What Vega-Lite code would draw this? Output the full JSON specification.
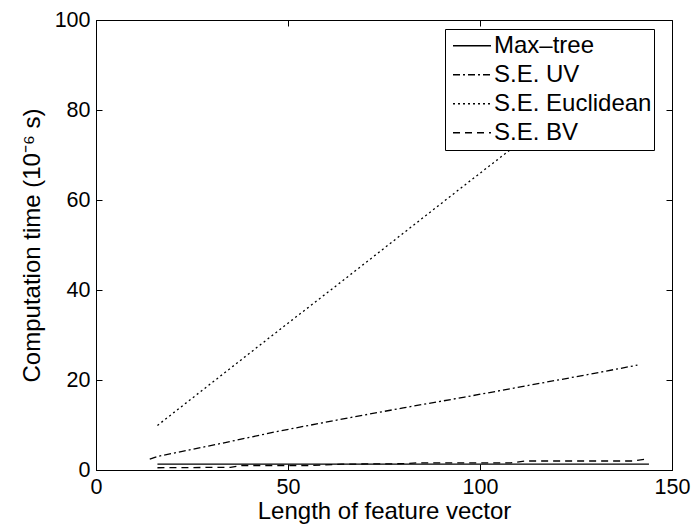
{
  "$schema": "https://vega.github.io/schema/vega-lite/v6.json",
  "width": 576,
  "height": 450,
  "autosize": {"type": "none"},
  "padding": {"left": 96, "top": 20, "right": 21, "bottom": 55},
  "background": "white",
  "config": {
    "font": "Liberation Sans",
    "view": {"stroke": "black", "strokeWidth": 1},
    "axis": {
      "grid": false,
      "domainColor": "black",
      "domainWidth": 1,
      "tickColor": "black",
      "tickWidth": 1,
      "tickSize": -6,
      "labelFlush": false,
      "labelColor": "black",
      "labelFontSize": 21.5,
      "labelFont": "Liberation Sans",
      "titleFont": "Liberation Sans",
      "titleFontSize": 24,
      "titleFontWeight": "normal",
      "titleColor": "black"
    },
    "legend": {
      "labelFont": "Liberation Sans",
      "labelFontSize": 24,
      "labelColor": "black"
    }
  },
  "data": {
    "values": [
      {"series": "Max–tree", "len": 16, "time": 1.3},
      {"series": "Max–tree", "len": 48, "time": 1.3},
      {"series": "Max–tree", "len": 80, "time": 1.3},
      {"series": "Max–tree", "len": 112, "time": 1.3},
      {"series": "Max–tree", "len": 144, "time": 1.3},
      {"series": "S.E. UV", "len": 14, "time": 2.4},
      {"series": "S.E. UV", "len": 16, "time": 3.0},
      {"series": "S.E. UV", "len": 32, "time": 5.8},
      {"series": "S.E. UV", "len": 48, "time": 8.7},
      {"series": "S.E. UV", "len": 64, "time": 11.3},
      {"series": "S.E. UV", "len": 80, "time": 13.8},
      {"series": "S.E. UV", "len": 96, "time": 16.2},
      {"series": "S.E. UV", "len": 112, "time": 18.7},
      {"series": "S.E. UV", "len": 128, "time": 21.2},
      {"series": "S.E. UV", "len": 141, "time": 23.3},
      {"series": "S.E. Euclidean", "len": 16, "time": 9.9},
      {"series": "S.E. Euclidean", "len": 32, "time": 20.6},
      {"series": "S.E. Euclidean", "len": 48, "time": 31.3},
      {"series": "S.E. Euclidean", "len": 64, "time": 41.9},
      {"series": "S.E. Euclidean", "len": 80, "time": 52.6},
      {"series": "S.E. Euclidean", "len": 96, "time": 63.3},
      {"series": "S.E. Euclidean", "len": 112, "time": 73.9},
      {"series": "S.E. Euclidean", "len": 128, "time": 84.6},
      {"series": "S.E. Euclidean", "len": 144, "time": 95.3},
      {"series": "S.E. BV", "len": 16, "time": 0.5},
      {"series": "S.E. BV", "len": 35, "time": 0.6},
      {"series": "S.E. BV", "len": 38, "time": 1.0},
      {"series": "S.E. BV", "len": 56, "time": 1.0},
      {"series": "S.E. BV", "len": 64, "time": 1.3},
      {"series": "S.E. BV", "len": 80, "time": 1.4},
      {"series": "S.E. BV", "len": 84, "time": 1.6},
      {"series": "S.E. BV", "len": 108, "time": 1.6},
      {"series": "S.E. BV", "len": 112, "time": 2.0},
      {"series": "S.E. BV", "len": 140, "time": 2.0},
      {"series": "S.E. BV", "len": 143, "time": 2.4}
    ]
  },
  "layer": [
    {
      "mark": {"type": "line", "color": "black", "strokeWidth": 1.3, "clip": true},
      "encoding": {
        "x": {
          "field": "len", "type": "quantitative",
          "scale": {"domain": [0, 150], "nice": false, "zero": false},
          "axis": {"orient": "bottom", "values": [0, 50, 100, 150], "title": "Length of feature vector", "labelPadding": 12, "titlePadding": 2}
        },
        "y": {
          "field": "time", "type": "quantitative",
          "scale": {"domain": [0, 100], "nice": false, "zero": false},
          "axis": {"orient": "left", "values": [0, 20, 40, 60, 80, 100], "title": "Computation time (10⁻⁶ s)", "labelPadding": 12, "titlePadding": 10}
        },
        "strokeDash": {
          "field": "series", "type": "nominal",
          "scale": {
            "domain": ["Max–tree", "S.E. UV", "S.E. Euclidean", "S.E. BV"],
            "range": [[1, 0], [7, 3, 2, 3], [2, 3], [7, 5]]
          },
          "legend": {
            "title": null,
            "orient": "none",
            "legendX": 349,
            "legendY": 9,
            "symbolType": "stroke",
            "symbolSize": 1444,
            "symbolStrokeColor": "black",
            "symbolStrokeWidth": 1.3,
            "symbolOffset": 4.5,
            "fillColor": "white",
            "strokeColor": "black",
            "padding": 2.5,
            "clipHeight": 28.5,
            "rowPadding": 0,
            "labelOffset": 2
          }
        }
      }
    },
    {
      "mark": {"type": "point", "opacity": 0},
      "encoding": {
        "x": {
          "field": "len", "type": "quantitative",
          "axis": {"orient": "top", "values": [0, 50, 100, 150], "labels": false, "title": null, "domain": false}
        },
        "y": {
          "field": "time", "type": "quantitative",
          "axis": {"orient": "right", "values": [0, 20, 40, 60, 80, 100], "labels": false, "title": null, "domain": false}
        }
      }
    }
  ],
  "resolve": {"axis": {"x": "independent", "y": "independent"}}
}
